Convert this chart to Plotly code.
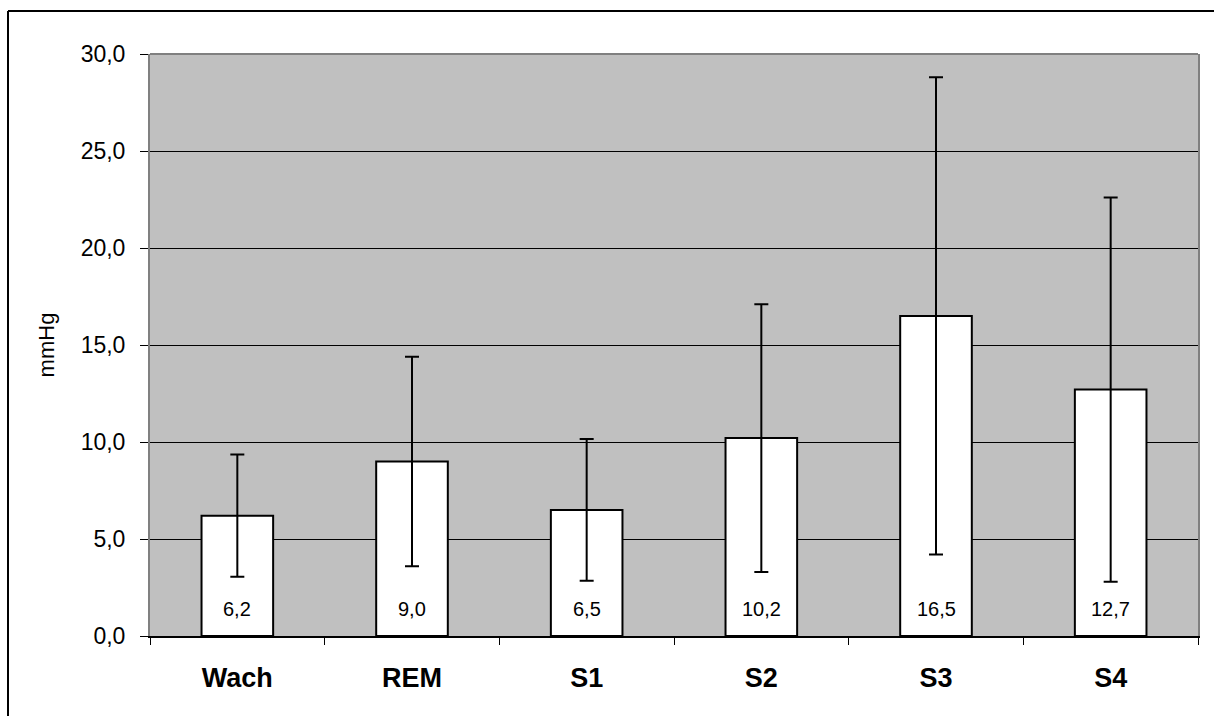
import plotly.graph_objects as go

categories = ["Wach", "REM", "S1", "S2", "S3", "S4"]
means = [6.2, 9.0, 6.5, 10.2, 16.5, 12.7]
sds = [3.15, 5.4, 3.65, 6.9, 12.3, 9.9]
value_labels = ["6,2", "9,0", "6,5", "10,2", "16,5", "12,7"]
y_ticks = [0, 5, 10, 15, 20, 25, 30]

FONT = "Liberation Sans, Arial, sans-serif"

fig = go.Figure()
fig.add_trace(go.Bar(
    x=categories, y=means, width=0.41,
    marker=dict(color="white", line=dict(color="black", width=2)),
    error_y=dict(type="data", array=sds, visible=True, color="black", thickness=2, width=7),
    showlegend=False, hoverinfo="skip",
))

for c, t in zip(categories, value_labels):
    fig.add_annotation(x=c, y=0, text=t, showarrow=False, yanchor="bottom", yshift=14,
                       font=dict(family=FONT, size=20, color="black"))

fig.update_layout(
    width=1214, height=716,
    margin=dict(l=150, r=16, t=54, b=80),
    paper_bgcolor="white", plot_bgcolor="#C0C0C0",
    separators=",.",
    font=dict(family=FONT, color="black"),
    xaxis=dict(
        type="category", tickson="boundaries", ticks="outside", ticklen=7, tickcolor="black",
        tickwidth=1, showline=True, linecolor="black", linewidth=2, showgrid=False,
        tickfont=dict(family=FONT, size=27, color="black", weight="bold"),
        ticklabelstandoff=17,
    ),
    yaxis=dict(
        range=[0, 30], tickvals=y_ticks, tickformat=".1f", ticks="outside", ticklen=8,
        tickcolor="black", showline=True, linecolor="#808080", linewidth=2, mirror=True,
        showgrid=True, gridcolor="black", gridwidth=1, zeroline=False,
        tickfont=dict(family=FONT, size=23, color="black"),
        ticklabelstandoff=10,
        title=dict(text="mmHg", font=dict(family=FONT, size=22, color="black"), standoff=20),
    ),
)

# plot area top edge (gray)
fig.add_shape(type="line", xref="paper", yref="paper", x0=0, x1=1, y0=1, y1=1,
              line=dict(color="#808080", width=2))
# outer chart border (left and top edges visible; the rest lies outside the picture)
fig.add_shape(type="line", xref="paper", yref="paper",
              x0=(8 - 150) / 1048, x1=(8 - 150) / 1048,
              y0=(636 - 760) / 582, y1=(636 - 11) / 582,
              line=dict(color="black", width=2))
fig.add_shape(type="line", xref="paper", yref="paper",
              x0=(8 - 150) / 1048, x1=(1260 - 150) / 1048,
              y0=(636 - 11) / 582, y1=(636 - 11) / 582,
              line=dict(color="black", width=2))

fig.write_html("out.html", config={"displayModeBar": False},
               post_script="document.body.style.margin='0';")
